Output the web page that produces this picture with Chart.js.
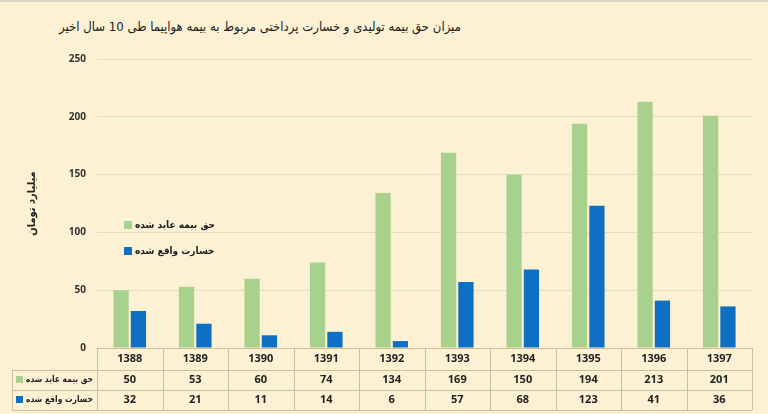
<!DOCTYPE html>
<html>
<head>
<meta charset="utf-8">
<script src="https://cdn.jsdelivr.net/npm/chart.js@4.4.1/dist/chart.umd.min.js"></script>
<style>
html,body{margin:0;padding:0;background:#fdf1d3;}
#wrap{position:relative;width:768px;height:414px;overflow:hidden;border-top:2px solid #d9d4c8;box-sizing:border-box;}
#title{position:absolute;left:0;top:17px;width:520px;text-align:center;direction:rtl;font-family:"DejaVu Sans Condensed","DejaVu Sans",sans-serif;font-size:13px;color:#222;}
canvas{position:absolute;left:0;top:0;}
</style>
</head>
<body>
<div id="wrap">
<div id="title">میزان حق بیمه تولیدی و خسارت پرداختی مربوط به بیمه هواپیما طی 10 سال اخیر</div>
<canvas id="myChart" width="768" height="412"></canvas>
</div>
<script>
var years=['1388','1389','1390','1391','1392','1393','1394','1395','1396','1397'];
var premium=[50,53,60,74,134,169,150,194,213,201];
var losses=[32,21,11,14,6,57,68,123,41,36];
var seriesNames=['حق بیمه عاید شده','خسارت واقع شده'];
var yTicks=[0,50,100,150,200,250];
var axisTitle='میلیارد تومان';

var green='#a9d18e', blue='#0f6fc2';
var arabicFont='"DejaVu Sans Condensed", "DejaVu Sans", sans-serif';
var numFont='"Open Sans", sans-serif';

// table under the plot, aligned to the x scale
var tablePlugin={
    id:'dataTable',
    afterDraw:function(chart){
        var ctx=chart.ctx, area=chart.chartArea, x=chart.scales.x;
        var colW=(area.right-area.left)/years.length;
        var top=area.bottom, r1=top+22, r2=r1+20, r3=r2+20, labelLeft=12;
        ctx.save();
        ctx.strokeStyle='#cdbf9c';
        ctx.lineWidth=1;
        ctx.beginPath();
        ctx.moveTo(area.left,top+0.5);ctx.lineTo(area.right,top+0.5);
        [r1,r2,r3].forEach(function(y){ctx.moveTo(labelLeft,y+0.5);ctx.lineTo(area.right,y+0.5);});
        for(var i=0;i<=years.length;i++){
            var vx=Math.round(area.left+i*colW)+0.5;
            ctx.moveTo(vx,top);ctx.lineTo(vx,r3);
        }
        ctx.moveTo(labelLeft+0.5,r1);ctx.lineTo(labelLeft+0.5,r3);
        ctx.stroke();

        ctx.fillStyle='#222';
        ctx.textAlign='center';ctx.textBaseline='middle';
        ctx.font='bold 11px '+numFont;
        years.forEach(function(v,i){
            var cx=x.getPixelForValue(i);
            ctx.fillText(v,cx,(top+r1)/2);
            ctx.fillText(String(premium[i]),cx,(r1+r2)/2);
            ctx.fillText(String(losses[i]),cx,(r2+r3)/2);
        });
        // row labels with colour keys
        var rows=[[green,(r1+r2)/2],[blue,(r2+r3)/2]];
        ctx.font='bold 9px '+arabicFont;
        ctx.textAlign='right';
        rows.forEach(function(r,i){
            ctx.fillStyle='#222';
            ctx.fillText(seriesNames[i],area.left-4,r[1],area.left-4-labelLeft-14);
            ctx.fillStyle=r[0];
            ctx.fillRect(labelLeft+4,r[1]-4,7,7);
        });
        ctx.restore();
    }
};

// legend floating inside the plot
var legendPlugin={
    id:'innerLegend',
    afterDraw:function(chart){
        var ctx=chart.ctx;
        var items=[[green,223],[blue,249]];
        ctx.save();
        ctx.font='bold 10px '+arabicFont;
        ctx.textAlign='left';ctx.textBaseline='middle';
        items.forEach(function(it,i){
            ctx.fillStyle=it[0];
            ctx.fillRect(124,it[1]-4,8,8);
            ctx.fillStyle='#222';
            ctx.fillText(chart.data.datasets[i].label,135,it[1]);
        });
        ctx.restore();
    }
};

var ctx=document.getElementById('myChart').getContext('2d');
var myChart=new Chart(ctx,{
    type:'bar',
    data:{
        labels:years,
        datasets:[
            {label:seriesNames[0],data:premium,backgroundColor:green},
            {label:seriesNames[1],data:losses,backgroundColor:blue}
        ]
    },
    options:{
        responsive:false,
        animation:false,
        layout:{padding:{top:57,bottom:66,right:16,left:0}},
        categoryPercentage:0.53,
        barPercentage:0.88,
        plugins:{legend:{display:false},tooltip:{enabled:false}},
        scales:{
            x:{display:false},
            y:{
                min:0,max:250,
                afterFit:function(s){s.width=97;},
                afterBuildTicks:function(s){s.ticks=yTicks.map(function(v){return {value:v};});},
                grid:{color:'#e9dcbc',drawTicks:false},
                border:{display:false},
                ticks:{padding:11,color:'#333',font:{family:numFont,size:10,weight:'bold'}},
                title:{display:true,text:axisTitle,color:'#222',padding:{top:26},font:{family:arabicFont,size:11,weight:'bold'}}
            }
        }
    },
    plugins:[tablePlugin,legendPlugin]
});
</script>
</body>
</html>
